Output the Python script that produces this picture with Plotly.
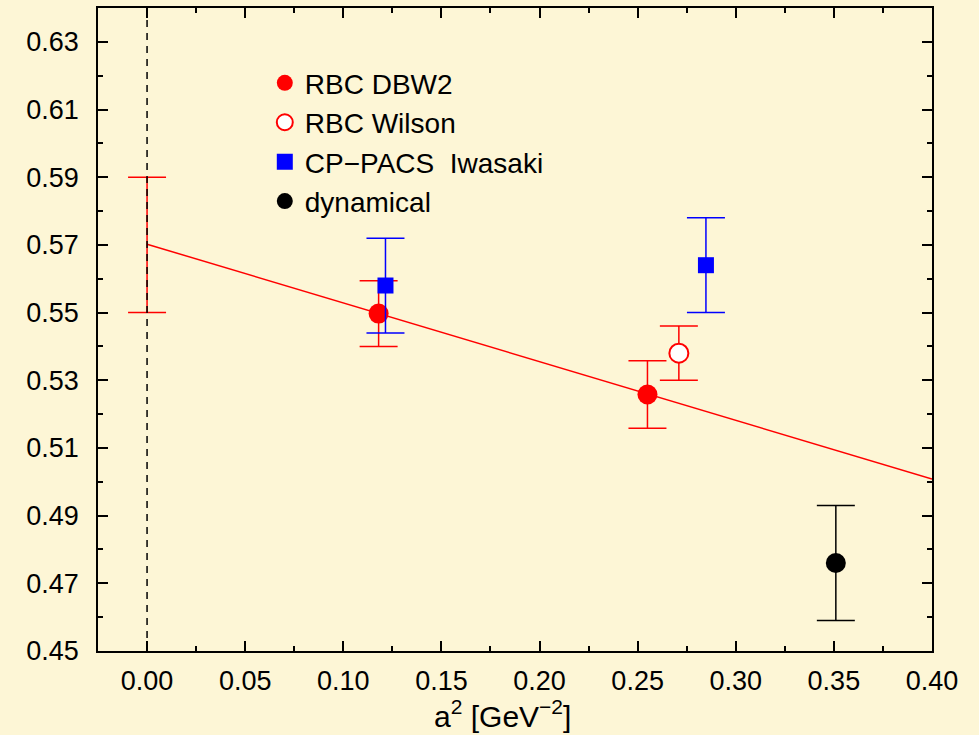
import plotly.graph_objects as go

BG = "#fdf6d6"

# data
fit_x = [0.0, 0.40]
fit_y = [0.5702, 0.5008]

extrap_x = [0.0]
extrap_y = [0.570]
extrap_err = [0.020]

dbw2_x = [0.118, 0.255]
dbw2_y = [0.5497, 0.5258]
dbw2_err = [0.0097, 0.0100]

wilson_x = [0.271]
wilson_y = [0.538]
wilson_err = [0.008]

cppacs_x = [0.1215, 0.2848]
cppacs_y = [0.558, 0.564]
cppacs_err = [0.014, 0.014]

dyn_x = [0.351]
dyn_y = [0.476]
dyn_err = [0.017]

xtick_vals = [0.0, 0.05, 0.10, 0.15, 0.20, 0.25, 0.30, 0.35, 0.40]
xtick_text = ["0.00", "0.05", "0.10", "0.15", "0.20", "0.25", "0.30", "0.35", "0.40"]
ytick_vals = [0.45, 0.47, 0.49, 0.51, 0.53, 0.55, 0.57, 0.59, 0.61, 0.63]
ytick_text = ["0.45", "0.47", "0.49", "0.51", "0.53", "0.55", "0.57", "0.59", "0.61", "0.63"]

FONT = "Liberation Sans, Arial, sans-serif"

fig = go.Figure()

# fit line
fig.add_trace(go.Scatter(x=fit_x, y=fit_y, mode="lines",
                         line=dict(color="red", width=1.5), showlegend=False))
# extrapolated error bar
fig.add_trace(go.Scatter(x=extrap_x, y=extrap_y, mode="markers",
                         marker=dict(size=1, color="rgba(0,0,0,0)"),
                         error_y=dict(type="data", array=extrap_err, color="red",
                                      thickness=1.5, width=19),
                         showlegend=False))
# dashed line at x=0
fig.add_trace(go.Scatter(x=[0, 0], y=[0.45, 0.64], mode="lines",
                         line=dict(color="black", width=1.5, dash="7px,6px"),
                         showlegend=False))

fig.add_trace(go.Scatter(x=dbw2_x, y=dbw2_y, mode="markers", name="RBC DBW2",
                         marker=dict(symbol="circle", size=20, color="red"),
                         error_y=dict(type="data", array=dbw2_err, color="red",
                                      thickness=1.5, width=19)))
fig.add_trace(go.Scatter(x=wilson_x, y=wilson_y, mode="markers", name="RBC Wilson",
                         marker=dict(symbol="circle", size=19, color="white",
                                     line=dict(color="red", width=2)),
                         error_y=dict(type="data", array=wilson_err, color="red",
                                      thickness=1.5, width=19)))
fig.add_trace(go.Scatter(x=cppacs_x, y=cppacs_y, mode="markers", name="CP\u2212PACS  Iwasaki",
                         marker=dict(symbol="square", size=16, color="blue"),
                         error_y=dict(type="data", array=cppacs_err, color="blue",
                                      thickness=1.5, width=19)))
fig.add_trace(go.Scatter(x=dyn_x, y=dyn_y, mode="markers", name="dynamical",
                         marker=dict(symbol="circle", size=20, color="black"),
                         error_y=dict(type="data", array=dyn_err, color="black",
                                      thickness=1.5, width=19)))

axis_common = dict(showgrid=False, zeroline=False, showline=True, linecolor="black",
                   linewidth=1.5, mirror="allticks", ticks="inside", ticklen=10,
                   tickwidth=1.5, tickcolor="black",
                   tickfont=dict(family=FONT, size=27, color="black"))

fig.update_xaxes(range=[-0.025, 0.4], tickvals=xtick_vals, ticktext=xtick_text,
                 minor=dict(ticks="inside", ticklen=5, tickwidth=1.5, tickcolor="black",
                            tickvals=[-0.025, 0.025, 0.075, 0.125, 0.175, 0.225, 0.275, 0.325, 0.375]),
                 ticklabelstandoff=5,
                 **axis_common)
fig.update_yaxes(range=[0.45, 0.64], tickvals=ytick_vals, ticktext=ytick_text,
                 minor=dict(ticks="inside", ticklen=5, tickwidth=1.5, tickcolor="black",
                            tickvals=[0.46, 0.48, 0.50, 0.52, 0.54, 0.56, 0.58, 0.60, 0.62, 0.64]),
                 ticklabelstandoff=12,
                 **axis_common)

fig.add_annotation(text="a<sup>2</sup> [GeV<sup>\u22122</sup>]", xref="paper", yref="paper",
                   x=0.485, y=-0.098, xanchor="center", yanchor="middle", showarrow=False,
                   font=dict(family=FONT, size=30, color="black"))

fig.update_layout(
    width=979, height=735,
    margin=dict(l=98, r=47, t=6, b=84),
    paper_bgcolor=BG, plot_bgcolor=BG,
    font=dict(family=FONT, size=27, color="black"),
    legend=dict(x=0.2, y=0.922, xanchor="left", yanchor="top",
                bgcolor="rgba(0,0,0,0)", font=dict(family=FONT, size=28, color="black"),
                tracegroupgap=0, itemwidth=30),
)

fig.write_html("out.html")
